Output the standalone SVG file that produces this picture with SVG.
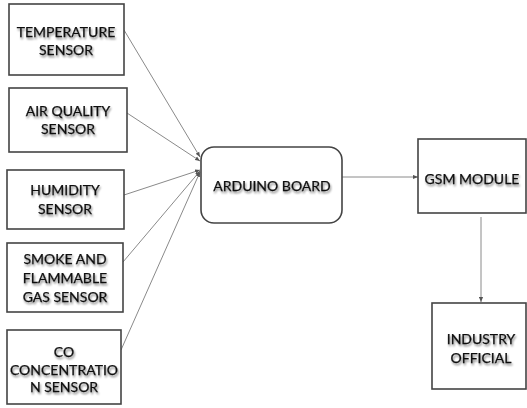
<svg xmlns="http://www.w3.org/2000/svg" width="527" height="408" viewBox="0 0 527 408">
<defs>
<filter id="ts" x="-10%" y="-30%" width="120%" height="160%">
<feGaussianBlur in="SourceAlpha" stdDeviation="1.3"/>
<feOffset dx="0.5" dy="1.8" result="b"/>
<feComponentTransfer><feFuncA type="linear" slope="0.5"/></feComponentTransfer>
<feMerge><feMergeNode/><feMergeNode in="SourceGraphic"/></feMerge>
</filter>
<marker id="ah" viewBox="0 0 6 6" refX="6" refY="3" markerWidth="5" markerHeight="5" orient="auto">
<path d="M0,0.5 L6,3 L0,5.5 z" fill="#555"/>
</marker>
</defs>
<style>
.box{fill:#fff;stroke:#444;stroke-width:1.6}
.t{font-family:Lato,"Open Sans",sans-serif;font-size:14px;fill:#111;stroke:#111;stroke-width:0.25;text-anchor:middle;filter:url(#ts)}
.c{stroke:#8a8a8a;stroke-width:1;fill:none}
</style>
<rect width="527" height="408" fill="#fff"/>
<g id="connectors">
<line class="c" x1="124" y1="30" x2="200" y2="157" marker-end="url(#ah)"/>
<line class="c" x1="127" y1="113" x2="200" y2="161" marker-end="url(#ah)"/>
<line class="c" x1="124" y1="195" x2="200" y2="170" marker-end="url(#ah)"/>
<line class="c" x1="123" y1="262" x2="200" y2="171" marker-end="url(#ah)"/>
<line class="c" x1="121" y1="350" x2="200" y2="172" marker-end="url(#ah)"/>
<line class="c" x1="342" y1="177" x2="418" y2="177" marker-end="url(#ah)"/>
<line class="c" x1="481" y1="217" x2="481" y2="302" marker-end="url(#ah)"/>
</g>
<g id="temperature">
<rect class="box" x="9" y="4" width="115" height="71"/>
<text class="t" x="66" y="37">TEMPERATURE</text>
<text class="t" x="66" y="55">SENSOR</text>
</g>
<g id="airquality">
<rect class="box" x="9" y="88" width="118" height="64"/>
<text class="t" x="68" y="116">AIR QUALITY</text>
<text class="t" x="68" y="134">SENSOR</text>
</g>
<g id="humidity">
<rect class="box" x="7" y="170" width="117" height="59"/>
<text class="t" x="65" y="195">HUMIDITY</text>
<text class="t" x="65" y="214">SENSOR</text>
</g>
<g id="smoke">
<rect class="box" x="7" y="243" width="116" height="69"/>
<text class="t" x="65" y="264">SMOKE AND</text>
<text class="t" x="65" y="283">FLAMMABLE</text>
<text class="t" x="65" y="302">GAS SENSOR</text>
</g>
<g id="co">
<rect class="box" x="7" y="330" width="114" height="74"/>
<text class="t" x="64" y="357">CO</text>
<text class="t" x="64" y="375">CONCENTRATIO</text>
<text class="t" x="64" y="392">N SENSOR</text>
</g>
<g id="arduino">
<rect class="box" x="201" y="147" width="141" height="76" rx="13" ry="13"/>
<text class="t" x="272" y="191">ARDUINO BOARD</text>
</g>
<g id="gsm">
<rect class="box" x="418" y="139" width="108" height="74"/>
<text class="t" x="472" y="184">GSM MODULE</text>
</g>
<g id="industry">
<rect class="box" x="432" y="303" width="94" height="86"/>
<text class="t" x="481" y="344">INDUSTRY</text>
<text class="t" x="481" y="363">OFFICIAL</text>
</g>
</svg>
